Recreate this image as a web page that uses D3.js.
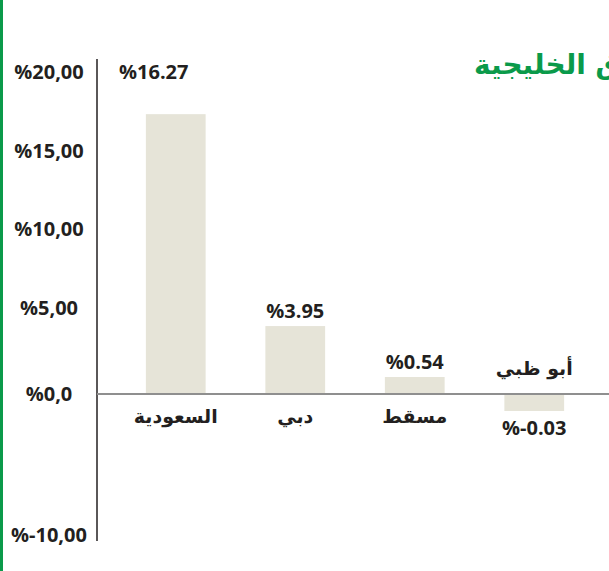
<!DOCTYPE html>
<html>
<head>
<meta charset="utf-8">
<script src="https://cdn.jsdelivr.net/npm/d3@7"></script>
<style>
  body { margin: 0; background: #fff; }
  svg text { font-family: "Open Sans", "DejaVu Sans", sans-serif; font-weight: 700; fill: #231f20; }
</style>
</head>
<body>
<svg width="609" height="571"></svg>
<script>
const markets = ['السعودية', 'دبي', 'مسقط', 'أبو ظبي'];
const changes = [16.27, 3.95, 0.54, -0.03];
const valueLabels = ['%16.27', '%3.95', '%0.54', '%-0.03'];
const tickValues = [20, 15, 10, 5, 0, -10];
const tickLabels = ['%20,00', '%15,00', '%10,00', '%5,00', '%0,0', '%-10,00'];
const title = 'الأسواق الخليجية';

const svg = d3.select('svg');
const width = +svg.attr('width');
const height = +svg.attr('height');
const green = '#0a9a4a';

const data = markets.map((m, i) => ({ market: m, value: changes[i], label: valueLabels[i] }));

// green rule on the left edge
svg.append('rect').attr('x', 0).attr('y', 0).attr('width', 3).attr('height', height).attr('fill', green);

// title, cut off by the right edge like in the page layout
svg.append('text')
  .attr('x', 474).attr('y', 74)
  .attr('direction', 'rtl')
  .attr('text-anchor', 'end')
  .style('font-family', '"DejaVu Sans", sans-serif')
  .style('font-size', '28px')
  .style('fill', green)
  .text(title);

const axisX = 97;

// tick label positions (the printed axis is not evenly spaced)
const yAxisScale = d3.scaleLinear()
  .domain([-10, 0, 5, 20])
  .range([535, 394, 308, 72]);

// bar scale
const y = d3.scaleLinear()
  .domain([-10, 20])
  .range([566, 50]);

const x = d3.scaleBand()
  .domain(markets)
  .range([116, 594])
  .paddingInner(0.5)
  .paddingOuter(0.25);

const minBar = 17;

// y axis line
svg.append('line')
  .attr('x1', axisX).attr('x2', axisX)
  .attr('y1', 59).attr('y2', 541)
  .attr('stroke', '#231f20').attr('stroke-width', 1.5);

svg.append('g')
  .selectAll('text')
  .data(tickValues)
  .enter().append('text')
    .attr('x', 49)
    .attr('y', d => yAxisScale(d))
    .attr('dy', '0.35em')
    .attr('text-anchor', 'middle')
    .style('font-size', '20px')
    .text((d, i) => tickLabels[i]);

// bars
const barTop = d => d.value >= 0 ? Math.min(y(d.value), y(0) - minBar) : y(0);
const barHeight = d => Math.max(Math.abs(y(d.value) - y(0)), minBar);

svg.append('g')
  .selectAll('rect')
  .data(data)
  .enter().append('rect')
    .attr('x', d => x(d.market))
    .attr('y', barTop)
    .attr('width', x.bandwidth())
    .attr('height', barHeight)
    .attr('fill', '#e6e4d8');

// zero line
svg.append('line')
  .attr('x1', axisX).attr('x2', width)
  .attr('y1', y(0)).attr('y2', y(0))
  .attr('stroke', '#8f8f8f').attr('stroke-width', 2);

const cx = d => x(d.market) + x.bandwidth() / 2;

// value labels
svg.append('g')
  .selectAll('text')
  .data(data)
  .enter().append('text')
    .attr('x', (d, i) => i === 0 ? cx(d) - 22 : cx(d))
    .attr('y', (d, i) => i === 0 ? 79 : d.value >= 0 ? barTop(d) - 8 : y(0) + barHeight(d) + 24)
    .attr('text-anchor', 'middle')
    .style('font-size', '20px')
    .text(d => d.label);

// market names
svg.append('g')
  .selectAll('text')
  .data(data)
  .enter().append('text')
    .attr('x', cx)
    .attr('y', d => d.value >= 0 ? y(0) + 29 : y(0) - 19)
    .attr('text-anchor', 'middle')
    .style('font-family', '"DejaVu Sans", sans-serif')
    .style('font-size', '19px')
    .text(d => d.market);
</script>
</body>
</html>
